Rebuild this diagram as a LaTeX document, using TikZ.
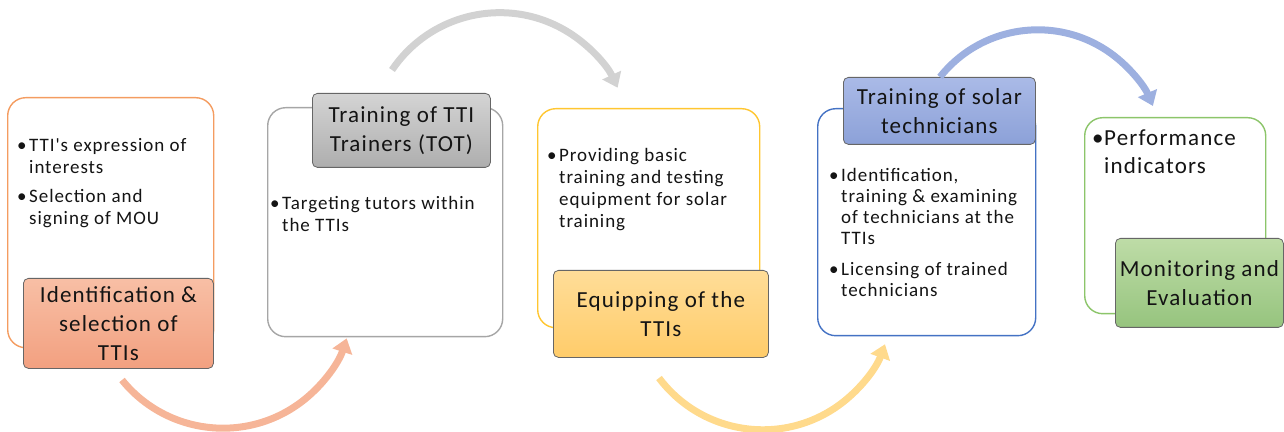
\documentclass[tikz,border=0pt]{standalone}
\usepackage{fontspec}
\setmainfont{Carlito}
\newfontfamily\spacedfamily[LetterSpace=5]{Carlito}
\usetikzlibrary{arrows.meta}

\definecolor{orangeline}{HTML}{F49C60}
\definecolor{grayline}{HTML}{A6A6A6}
\definecolor{yellowline}{HTML}{FFC630}
\definecolor{blueline}{HTML}{4472C4}
\definecolor{greenline}{HTML}{8CC56A}
\definecolor{textgray}{HTML}{141414}
% header shadings
\definecolor{salmontop}{HTML}{F8BFA5}
\definecolor{salmonbot}{HTML}{F2A080}
\definecolor{graytop}{HTML}{D4D4D4}
\definecolor{graybot}{HTML}{AEAEAE}
\definecolor{yellowtop}{HTML}{FFDD98}
\definecolor{yellowbot}{HTML}{FFCC6A}
\definecolor{bluetop}{HTML}{AABAE7}
\definecolor{bluebot}{HTML}{8CA1D8}
\definecolor{greentop}{HTML}{BEDCA7}
\definecolor{greenbot}{HTML}{96C47E}
% arrow colours
\definecolor{salmonflow}{HTML}{F6B598}
\definecolor{grayflow}{HTML}{D2D2D2}
\definecolor{yellowflow}{HTML}{FFDA8C}
\definecolor{blueflow}{HTML}{9DB0E0}

\newcommand{\notefont}{\spacedfamily\fontsize{19}{22}\selectfont}
\newcommand{\stagefont}{\spacedfamily\fontsize{23}{29}\selectfont}
\newcommand{\bulmark}{\makebox[12pt][l]{\textbullet}}
\newcommand{\bulgap}{\hspace*{12pt}}

\tikzstyle{panel}=[draw, fill=white, rounded corners=18pt, line width=1.4pt, inner sep=0pt, anchor=north west]
\tikzstyle{stage}=[draw=black!60, rounded corners=5pt, line width=0.8pt, inner sep=0pt, anchor=north west, align=center, font=\stagefont, text=textgray]
\tikzstyle{notes}=[inner sep=0pt, anchor=north west, align=left, font=\notefont, text=textgray]
\tikzstyle{flow}=[line width=7pt, -{Triangle[length=14pt,width=20pt]}]

\begin{document}
\begin{tikzpicture}[x=1pt,y=1pt]
\useasboundingbox (0,0) rectangle (1284,431);

% outer panels
\node[panel, draw=orangeline, minimum width=206pt, minimum height=250pt] (p1) at (7,334) {};
\node[panel, draw=grayline, minimum width=235pt, minimum height=229pt] (p2) at (267,324) {};
\node[panel, draw=yellowline, minimum width=222pt, minimum height=219pt] (p3) at (537,323) {};
\node[panel, draw=blueline, minimum width=218pt, minimum height=227pt] (p4) at (817,323) {};
\node[panel, draw=greenline, minimum width=181pt, minimum height=196pt] (p5) at (1084,314) {};

% bullet notes
\node[notes] (n1) at (17,293) {\bulmark TTI's expression of\\\bulgap interests\\[7pt]\bulmark Selection and\\\bulgap signing of MOU};
\node[notes] (n2) at (270,235) {\bulmark Targeting tutors within\\\bulgap the TTIs};
\node[notes] (n3) at (547,283) {\bulmark Providing basic\\\bulgap training and testing\\\bulgap equipment for solar\\\bulgap training};
\node[notes, font=\spacedfamily\fontsize{19}{21}\selectfont] (n4) at (829,263) {\bulmark Identification,\\\bulgap training \& examining\\\bulgap of technicians at the\\\bulgap TTIs\\[10pt]\bulmark Licensing of trained\\\bulgap technicians};
\node[notes, font=\spacedfamily\fontsize{23}{28}\selectfont] (n5) at (1092,301) {\bulmark Performance\\\bulgap indicators};

% stage headers
\node[stage, top color=salmontop, bottom color=salmonbot, minimum width=190pt, minimum height=90pt] (s1) at (23,153) {Identification \&\\selection of\\TTIs};
\node[stage, top color=graytop, bottom color=graybot, minimum width=178pt, minimum height=74pt] (s2) at (312,338) {Training of TTI\\Trainers (TOT)};
\node[stage, top color=yellowtop, bottom color=yellowbot, minimum width=215pt, minimum height=87pt] (s3) at (553,161) {Equipping of the\\TTIs};
\node[stage, top color=bluetop, bottom color=bluebot, minimum width=192pt, minimum height=67pt] (s4) at (843,354) {Training of solar\\technicians};
\node[stage, top color=greentop, bottom color=greenbot, minimum width=168pt, minimum height=89pt] (s5) at (1115,193) {Monitoring and\\Evaluation};

% flow arrows between the stages
\coordinate (a1) at (122,51);
\coordinate (a2) at (392,361);
\coordinate (a3) at (659,53);
\coordinate (a4) at (940,354);
\draw[flow, color=salmonflow] (a1) arc[start angle=219, end angle=342, radius=130pt];
\draw[flow, color=grayflow] (a2) arc[start angle=146, end angle=25, radius=130pt];
\draw[flow, color=yellowflow] (a3) arc[start angle=217, end angle=340, radius=130pt];
\draw[flow, color=blueflow] (a4) arc[start angle=141.5, end angle=23, radius=125pt];
\end{tikzpicture}
\end{document}
